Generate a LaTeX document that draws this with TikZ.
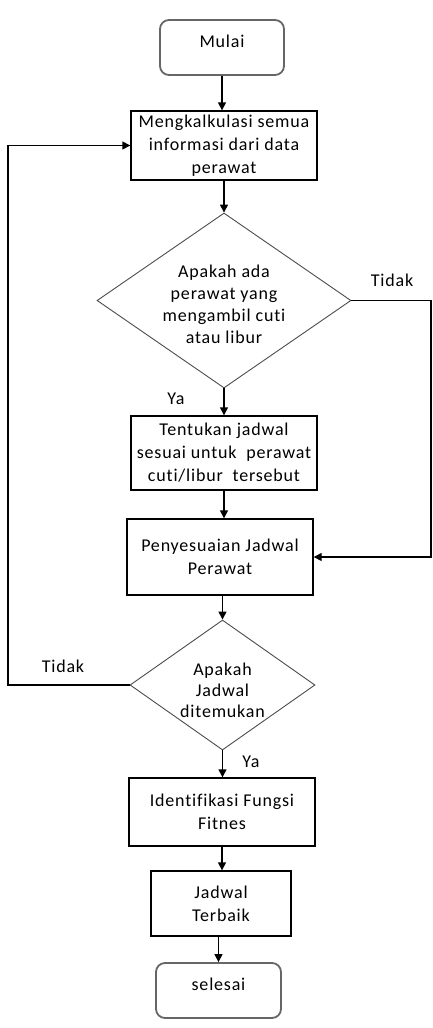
\documentclass[tikz,border=0pt]{standalone}
\usepackage{fontspec}
\setmainfont{Carlito}[Ligatures=NoCommon, LetterSpace=4.5]
\usetikzlibrary{shapes.geometric,arrows.meta}
\begin{document}
\begin{tikzpicture}[x=1pt,y=-1pt]
\tikzset{
 base/.style={font=\fontsize{18}{23}\selectfont, align=center, text=black},
 proc/.style={base, draw=black, line width=1.4pt, rectangle, inner sep=0pt},
 term/.style={base, draw=black!60, line width=1.8pt, rounded corners=9pt, minimum width=124pt, minimum height=55pt, text height=12pt, text depth=12pt, inner sep=0pt},
 dec/.style={draw=black!70, line width=0.9pt, diamond, inner sep=0pt},
 dtext/.style={base, font=\fontsize{18}{22}\selectfont},
 lab/.style={base},
 arr/.style={line width=1.4pt, -{Triangle[length=8pt,width=8pt]}},
 ln/.style={line width=1.4pt},
}
\useasboundingbox (0,0) rectangle (433,1028);
\node[term] (mulai) at (222,47.5) {Mulai};
\node[proc, minimum width=186pt, minimum height=69pt] (box1) at (224,145.5) {Mengkalkulasi semua\\informasi dari data\\perawat};
\node[dec, minimum width=254pt, minimum height=175pt] (d1) at (224,300.5) {};
\node[dtext] (d1t) at (224,304) {Apakah ada\\perawat yang\\mengambil cuti\\atau libur};
\node[proc, minimum width=186pt, minimum height=74pt] (box2) at (224,453) {Tentukan jadwal\\sesuai untuk\ \ perawat\\cuti/libur\ \ tersebut};
\node[proc, minimum width=186pt, minimum height=76pt] (box3) at (220,557) {Penyesuaian Jadwal\\Perawat};
\node[dec, minimum width=185pt, minimum height=130pt] (d2) at (222.5,685) {};
\node[dtext, font=\fontsize{18}{21}\selectfont] (d2t) at (222.5,690) {Apakah\\Jadwal\\ditemukan};
\node[proc, minimum width=186pt, minimum height=68pt] (box4) at (222,812) {Identifikasi Fungsi\\Fitnes};
\node[proc, minimum width=140pt, minimum height=65pt] (box5) at (221,903.5) {Jadwal\\Terbaik};
\node[term, minimum width=125pt] (selesai) at (218.5,990.5) {selesai};
\node[lab] (tidak1) at (392,280) {Tidak};
\node[lab] (ya1) at (176,399) {Ya};
\node[lab] (tidak2) at (63,666) {Tidak};
\node[lab] (ya2) at (251,762) {Ya};
\coordinate (r1) at (431,300.5);
\coordinate (r2) at (431,557);
\coordinate (l1) at (8,685);
\coordinate (l2) at (8,145.5);
\draw[arr] (mulai.south) -- (mulai.south |- box1.north);
\draw[arr] (box1.south) -- (d1.north);
\draw[arr] (d1.south) -- (box2.north);
\draw[arr] (box2.south) -- (box2.south |- box3.north);
\draw[arr] (box3.south -| d2.north) -- (d2.north);
\draw[arr] (d2.south) -- (d2.south |- box4.north);
\draw[arr] (box4.south) -- (box4.south |- box5.north);
\draw[arr] (box5.south -| selesai.north) -- (selesai.north);
\draw[arr] (d1.east) -- (r1) -- (r2) -- (box3.east);
\draw[arr] (d2.west) -- (l1) -- (l2) -- (box1.west);
\end{tikzpicture}
\end{document}
